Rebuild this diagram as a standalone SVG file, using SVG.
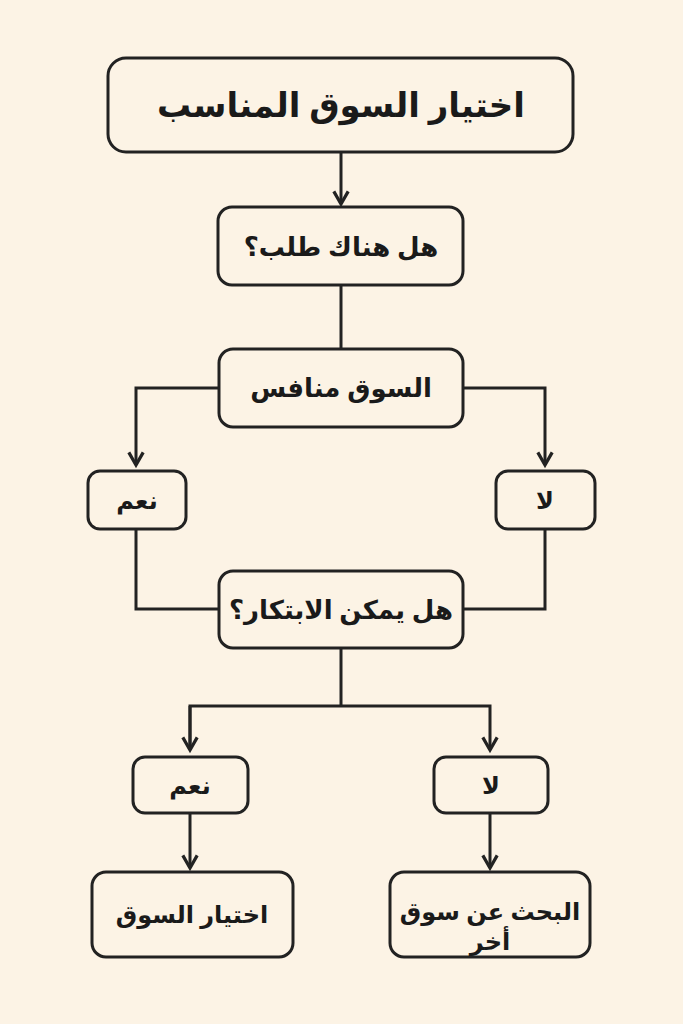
<svg xmlns="http://www.w3.org/2000/svg" width="683" height="1024" viewBox="0 0 683 1024">
<defs>
<style>
.box{fill:#fcf3e5;stroke:#222;stroke-width:3}
.ln{fill:none;stroke:#222;stroke-width:3}
text{font-family:"Noto Sans","DejaVu Sans",sans-serif;font-weight:bold;fill:#1a1a1a;text-anchor:middle;direction:rtl}
</style>
<marker id="a" viewBox="0 0 10 10" refX="8" refY="5" markerWidth="6" markerHeight="6" orient="auto"><path d="M1,1 L8,5 L1,9" fill="none" stroke="#222" stroke-width="1.8"/></marker>
</defs>
<rect width="683" height="1024" fill="#fcf3e5"/>
<g id="connectors">
<path class="ln" d="M341,152 V204" marker-end="url(#a)"/>
<path class="ln" d="M341,285 V349"/>
<path class="ln" d="M219,388 H136 V465" marker-end="url(#a)"/>
<path class="ln" d="M463,388 H545 V465" marker-end="url(#a)"/>
<path class="ln" d="M136,529 V609 H219"/>
<path class="ln" d="M545,529 V609 H463"/>
<path class="ln" d="M341,648 V706"/>
<path class="ln" d="M190,750 V706 H490 V750" marker-end="url(#a)"/>
<path class="ln" d="M190,706 V750" marker-end="url(#a)"/>
<path class="ln" d="M190,813 V868" marker-end="url(#a)"/>
<path class="ln" d="M490,813 V868" marker-end="url(#a)"/>
</g>
<g id="n1"><rect class="box" x="108" y="58" width="465" height="94" rx="18"/><text x="341" y="117" font-size="34">اختيار السوق المناسب</text></g>
<g id="n2"><rect class="box" x="218" y="207" width="245" height="78" rx="14"/><text x="341" y="256" font-size="26">هل هناك طلب؟</text></g>
<g id="n3"><rect class="box" x="219" y="349" width="244" height="78" rx="14"/><text x="341" y="397" font-size="26">السوق منافس</text></g>
<g id="n4"><rect class="box" x="88" y="471" width="98" height="58" rx="12"/><text x="137" y="509" font-size="24">نعم</text></g>
<g id="n5"><rect class="box" x="496" y="471" width="99" height="58" rx="12"/><text x="545" y="509" font-size="24">لا</text></g>
<g id="n6"><rect class="box" x="219" y="571" width="244" height="77" rx="14"/><text x="341" y="619" font-size="26">هل يمكن الابتكار؟</text></g>
<g id="n7"><rect class="box" x="133" y="757" width="115" height="56" rx="12"/><text x="190" y="794" font-size="24">نعم</text></g>
<g id="n8"><rect class="box" x="434" y="757" width="114" height="56" rx="12"/><text x="491" y="794" font-size="24">لا</text></g>
<g id="n9"><rect class="box" x="92" y="872" width="201" height="85" rx="14"/><text x="192" y="923" font-size="24">اختيار السوق</text></g>
<g id="n10"><rect class="box" x="390" y="872" width="200" height="85" rx="14"/><text x="490" y="920" font-size="24">البحث عن سوق</text><text x="490" y="950" font-size="24">أخر</text></g>
</svg>
